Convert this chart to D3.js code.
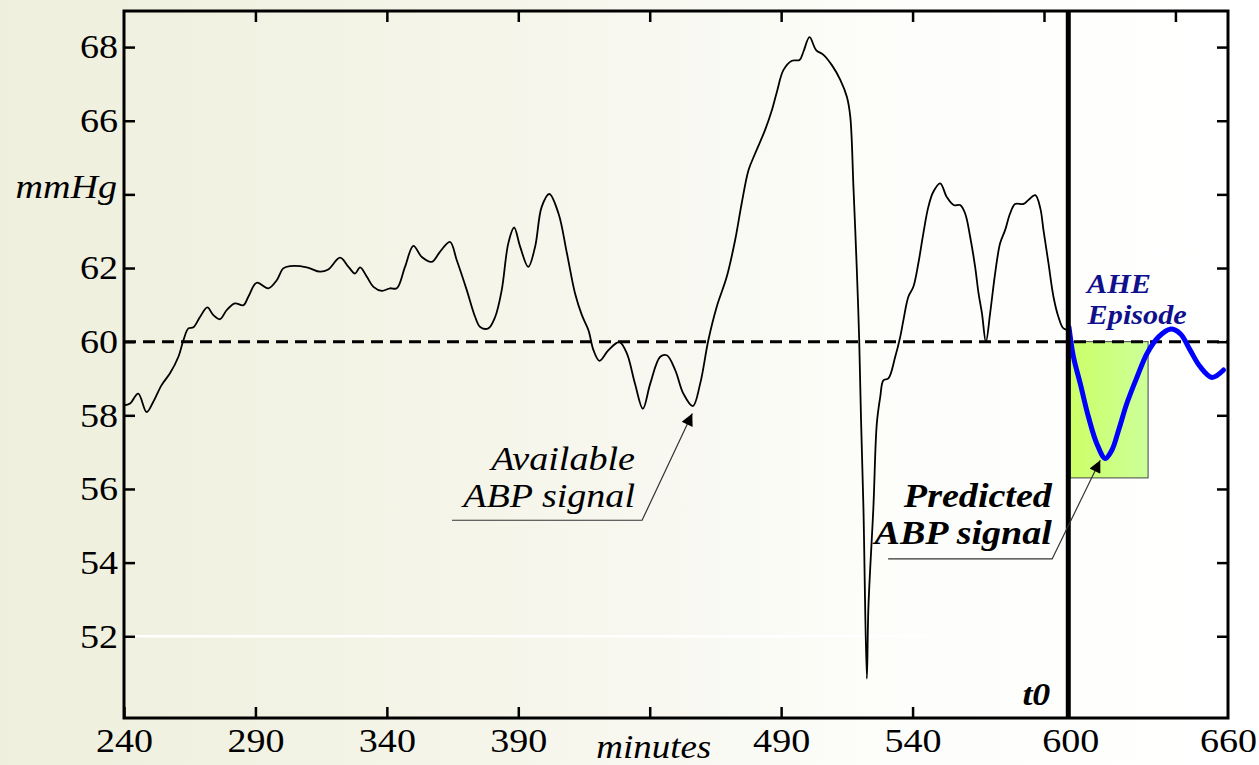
<!DOCTYPE html>
<html>
<head>
<meta charset="utf-8">
<script src="https://cdn.jsdelivr.net/npm/d3@7"></script>
<style>
html,body{margin:0;padding:0;background:#fff;}
svg{display:block;}
</style>
</head>
<body>
<svg id="chart" width="1259" height="765"></svg>
<script>
// ---------- DATA ----------
const timeMinutes = [240,242.3,245.4,248.6,251.1,254.3,257.5,260.7,262.6,264.5,266.4,268.9,271.7,274.0,276.5,279.1,282.2,285.4,287.3,290.5,294.9,298.1,300.6,303.2,309.5,314.6,317.7,322.2,325.4,327.9,329.8,332.4,334.9,338.1,341.2,343.8,346.9,350.1,353.3,357.1,360.2,364.0,366.6,370.4,373.6,375.5,378.6,381.2,383.7,386.2,388.4,390.7,393.8,396.4,398.9,401.8,405.3,408.5,411.6,414.2,416.7,418.6,420.9,424.3,428.5,431.3,434.4,437.4,440.2,444.0,446.5,449.7,452.8,456.4,459.2,462.3,465.5,469.3,472.5,475.0,477.6,480.1,483.9,486.5,488.4,490.9,494.1,497.0,498.5,500.8,503.3,506.1,509.3,512.5,515.0,516.3,517.5,518.8,519.7,520.4,521.3,522.6,523.2,525.1,526.4,527.7,528.9,530.8,533.4,535.3,536.5,538.4,540.3,542.2,544.1,546.0,547.9,550.5,553.0,555.6,558.1,560.0,561.9,563.8,565.1,566.4,567.9,569.5,571.4,573.3,575.2,577.1,579.0,582.2,584.1,586.7,588.6,589.8,591.7,593.6,595.5,597.4,600];
const abpAvailable = [58.27,58.32,58.59,58.09,58.36,58.82,59.14,59.59,60.04,60.36,60.39,60.67,60.93,60.72,60.61,60.86,61.04,60.99,61.22,61.60,61.45,61.67,61.99,62.05,62.02,61.90,61.96,62.28,62.03,61.85,62.02,61.76,61.49,61.38,61.45,61.45,62.03,62.60,62.30,62.17,62.44,62.71,62.21,61.40,60.67,60.40,60.36,60.67,61.40,62.67,63.10,62.58,62.03,62.58,63.66,64.01,63.48,62.40,61.31,60.72,60.31,59.77,59.48,59.77,59.99,59.68,58.86,58.18,58.86,59.59,59.63,59.23,58.59,58.25,58.86,60.04,60.95,61.76,62.76,63.76,64.66,65.11,65.75,66.29,66.79,67.38,67.63,67.65,67.88,68.27,67.92,67.79,67.51,67.11,66.65,66.11,64.21,61.94,60.04,57.87,55.51,50.85,52.79,55.51,57.78,58.50,58.95,59.00,59.59,60.13,60.58,61.22,61.49,62.13,62.94,63.66,64.07,64.30,63.93,63.71,63.71,63.48,62.85,62.03,61.31,60.77,59.99,60.77,61.85,62.67,63.03,63.48,63.74,63.74,63.85,63.98,63.62,63.03,62.13,61.22,60.67,60.36,60.31];

const timePredicted = [599.5,601.2,603.8,606.9,610.1,613.3,615.8,618.4,621.5,625.4,629.2,633.6,638.0,641.8,645.6,649.4,653.9,658.3];
const abpPredicted  = [60.40,59.59,58.86,57.96,57.23,56.83,57.05,57.60,58.32,59.04,59.68,60.13,60.34,60.22,59.77,59.32,59.03,59.23];

const thresholdMmHg = 60;
const t0Minute = 600;
const episodeBox = {t1: 600, t2: 629.6, low: 56.3, high: 60};

const yTickValues = [52,54,56,58,60,62,64,66,68];
const yTickLabels = ["52","54","56","58","60","62","","66","68"];
const xBottomTicks = [240,290,340,390,440,490,540];
const xBottomLabels = ["240","290","340","390","","490","540"];
const xExtraLabels = [600,660];
const xTopTicks = [290,340,390,440,490,540,590,640];

// ---------- SCALES ----------
const W = 1259, H = 765;
const plotL = 124, plotR = 1228, plotT = 11, plotB = 718;
const x = d3.scaleLinear().domain([240,660]).range([plotL, plotR]);
const y = d3.scaleLinear().domain([49.78, 68.98]).range([plotB, plotT]);
const STRETCH = 1.12;

const svg = d3.select("#chart");
const defs = svg.append("defs");

const bg = defs.append("linearGradient").attr("id","bg").attr("x1","0").attr("x2","1").attr("y1","0").attr("y2","0");
bg.append("stop").attr("offset","0%").attr("stop-color","#eeefdc");
bg.append("stop").attr("offset","40%").attr("stop-color","#f5f5ea");
bg.append("stop").attr("offset","72%").attr("stop-color","#fdfdfb");
bg.append("stop").attr("offset","100%").attr("stop-color","#ffffff");

const gb = defs.append("linearGradient").attr("id","green").attr("x1","0").attr("x2","1").attr("y1","0").attr("y2","0");
gb.append("stop").attr("offset","0%").attr("stop-color","#ccff66");
gb.append("stop").attr("offset","100%").attr("stop-color","#ccff99");

defs.append("marker").attr("id","arrow").attr("viewBox","0 0 10 10")
  .attr("refX",10).attr("refY",5).attr("markerWidth",16).attr("markerHeight",12)
  .attr("markerUnits","userSpaceOnUse").attr("orient","auto")
  .append("path").attr("d","M0,0 L10,5 L0,10 Z").attr("fill","#000");

svg.append("rect").attr("width",W).attr("height",H).attr("fill","url(#bg)");

// white grid remnant at 52
svg.append("line").attr("x1",x(240)).attr("x2",x(545)).attr("y1",y(52)).attr("y2",y(52))
  .attr("stroke","#ffffff").attr("stroke-width",2.5);

// episode box
svg.append("rect")
  .attr("x",x(episodeBox.t1)).attr("y",y(episodeBox.high))
  .attr("width",x(episodeBox.t2)-x(episodeBox.t1)).attr("height",y(episodeBox.low)-y(episodeBox.high))
  .attr("fill","url(#green)").attr("stroke","#444").attr("stroke-width",1);

// threshold dashed
svg.append("line").attr("x1",plotL).attr("x2",plotR).attr("y1",y(thresholdMmHg)).attr("y2",y(thresholdMmHg))
  .attr("stroke","#000").attr("stroke-width",3).attr("stroke-dasharray","12 7");

const line = d3.line().x(d=>x(d[0])).y(d=>y(d[1])).curve(d3.curveCatmullRom.alpha(0.5));
svg.append("path").datum(timeMinutes.map((t,i)=>[t,abpAvailable[i]]))
  .attr("d",line).attr("fill","none").attr("stroke","#000").attr("stroke-width",1.8).attr("stroke-linejoin","round");

svg.append("path").datum(timePredicted.map((t,i)=>[t,abpPredicted[i]]))
  .attr("d",line).attr("fill","none").attr("stroke","#0000ff").attr("stroke-width",5).attr("stroke-linecap","round");

// t0 line
svg.append("line").attr("x1",x(t0Minute)-2).attr("x2",x(t0Minute)-2).attr("y1",plotT).attr("y2",plotB)
  .attr("stroke","#000").attr("stroke-width",5);

// ---------- AXES ----------
const serif = "'Liberation Serif','Times New Roman',serif";
function styleAxis(g){
  g.select(".domain").remove();
  g.selectAll(".tick line").attr("stroke","#000").attr("stroke-width",2.5);
  g.selectAll(".tick text").attr("font-family",serif).attr("font-size",34).attr("fill","#000");
}
const gl = svg.append("g").attr("transform",`translate(${plotL},0)`)
  .call(d3.axisLeft(y).tickValues(yTickValues).tickFormat((d,i)=>yTickLabels[i]).tickSizeInner(-11).tickSizeOuter(0).tickPadding(6));
styleAxis(gl);
const gr = svg.append("g").attr("transform",`translate(${plotR},0)`)
  .call(d3.axisRight(y).tickValues(yTickValues).tickFormat("").tickSizeInner(-11).tickSizeOuter(0));
styleAxis(gr);
const gt = svg.append("g").attr("transform",`translate(0,${plotT})`)
  .call(d3.axisTop(x).tickValues(xTopTicks).tickFormat("").tickSizeInner(-11).tickSizeOuter(0));
styleAxis(gt);
const gbt = svg.append("g").attr("transform",`translate(0,${plotB})`)
  .call(d3.axisBottom(x).tickValues(xBottomTicks).tickFormat((d,i)=>xBottomLabels[i]).tickSizeInner(-11).tickSizeOuter(0).tickPadding(10));
styleAxis(gbt);
const gbx = svg.append("g").attr("transform",`translate(0,${plotB})`)
  .call(d3.axisBottom(x).tickValues(xExtraLabels).tickFormat(d3.format("d")).tickSizeInner(0).tickSizeOuter(0).tickPadding(10));
styleAxis(gbx);
gbx.selectAll(".tick line").remove();

// frame
svg.append("rect").attr("x",plotL).attr("y",plotT).attr("width",plotR-plotL).attr("height",plotB-plotT)
  .attr("fill","none").attr("stroke","#000").attr("stroke-width",3);

// axis titles
svg.append("text").attr("x",plotL-7).attr("y",y(64)+4).attr("text-anchor","end")
  .attr("font-family",serif).attr("font-style","italic").attr("font-size",34).text("mmHg");
svg.append("text").attr("x",x(440)+4).attr("y",758).attr("text-anchor","middle")
  .attr("font-family",serif).attr("font-style","italic").attr("font-size",33).text("minutes");

// ---------- ANNOTATIONS ----------
const annAvail = {tipT:456.2, tipV:58.05, bendT:437.1, bendV:55.15, leftT:364.8, textT:434.4, v1:56.51, v2:55.5};
svg.append("path")
  .attr("d",`M${x(annAvail.leftT)},${y(annAvail.bendV)} L${x(annAvail.bendT)},${y(annAvail.bendV)} L${x(annAvail.tipT)},${y(annAvail.tipV)}`)
  .attr("fill","none").attr("stroke","#333").attr("stroke-width",1.2).attr("marker-end","url(#arrow)");
const ta = svg.append("text").attr("text-anchor","end").attr("font-family",serif).attr("font-style","italic")
  .attr("font-size",34);
ta.append("tspan").attr("x",x(annAvail.textT)).attr("y",y(annAvail.v1)).text("Available");
ta.append("tspan").attr("x",x(annAvail.textT)).attr("y",y(annAvail.v2)).text("ABP signal");

const annPred = {tipT:611.4, tipV:56.78, bendT:593.1, bendV:54.1, leftT:530.7, textT:593.0, v1:55.5, v2:54.5};
svg.append("path")
  .attr("d",`M${x(annPred.leftT)},${y(annPred.bendV)} L${x(annPred.bendT)},${y(annPred.bendV)} L${x(annPred.tipT)},${y(annPred.tipV)}`)
  .attr("fill","none").attr("stroke","#333").attr("stroke-width",1.2).attr("marker-end","url(#arrow)");
const tp = svg.append("text").attr("text-anchor","end").attr("font-family",serif).attr("font-style","italic")
  .attr("font-weight","bold").attr("font-size",34);
tp.append("tspan").attr("x",x(annPred.textT)).attr("y",y(annPred.v1)).text("Predicted");
tp.append("tspan").attr("x",x(annPred.textT)).attr("y",y(annPred.v2)).text("ABP signal");

svg.append("text").attr("x",x(592.4)).attr("y",y(50.12)).attr("text-anchor","end")
  .attr("font-family",serif).attr("font-style","italic").attr("font-weight","bold").attr("font-size",32).text("t0");

const th = svg.append("text").attr("font-family",serif).attr("font-style","italic").attr("font-weight","bold")
  .attr("font-size",27).attr("fill","#10108c");
th.append("tspan").attr("x",x(606.4)).attr("y",y(61.32)).text("AHE");
th.append("tspan").attr("x",x(606.6)).attr("y",y(60.48)).text("Episode");

// horizontal stretch of serif text (reference glyphs are wider than normal)
svg.selectAll("text").each(function(){
  const el = this;
  const spans = el.querySelectorAll("tspan");
  const targets = spans.length ? Array.from(spans) : [el];
  targets.forEach(t=>{
    if(!t.textContent) return;
    const len = t.getComputedTextLength();
    t.setAttribute("textLength", (len*STRETCH).toFixed(1));
    t.setAttribute("lengthAdjust","spacingAndGlyphs");
  });
});
</script>
</body>
</html>
